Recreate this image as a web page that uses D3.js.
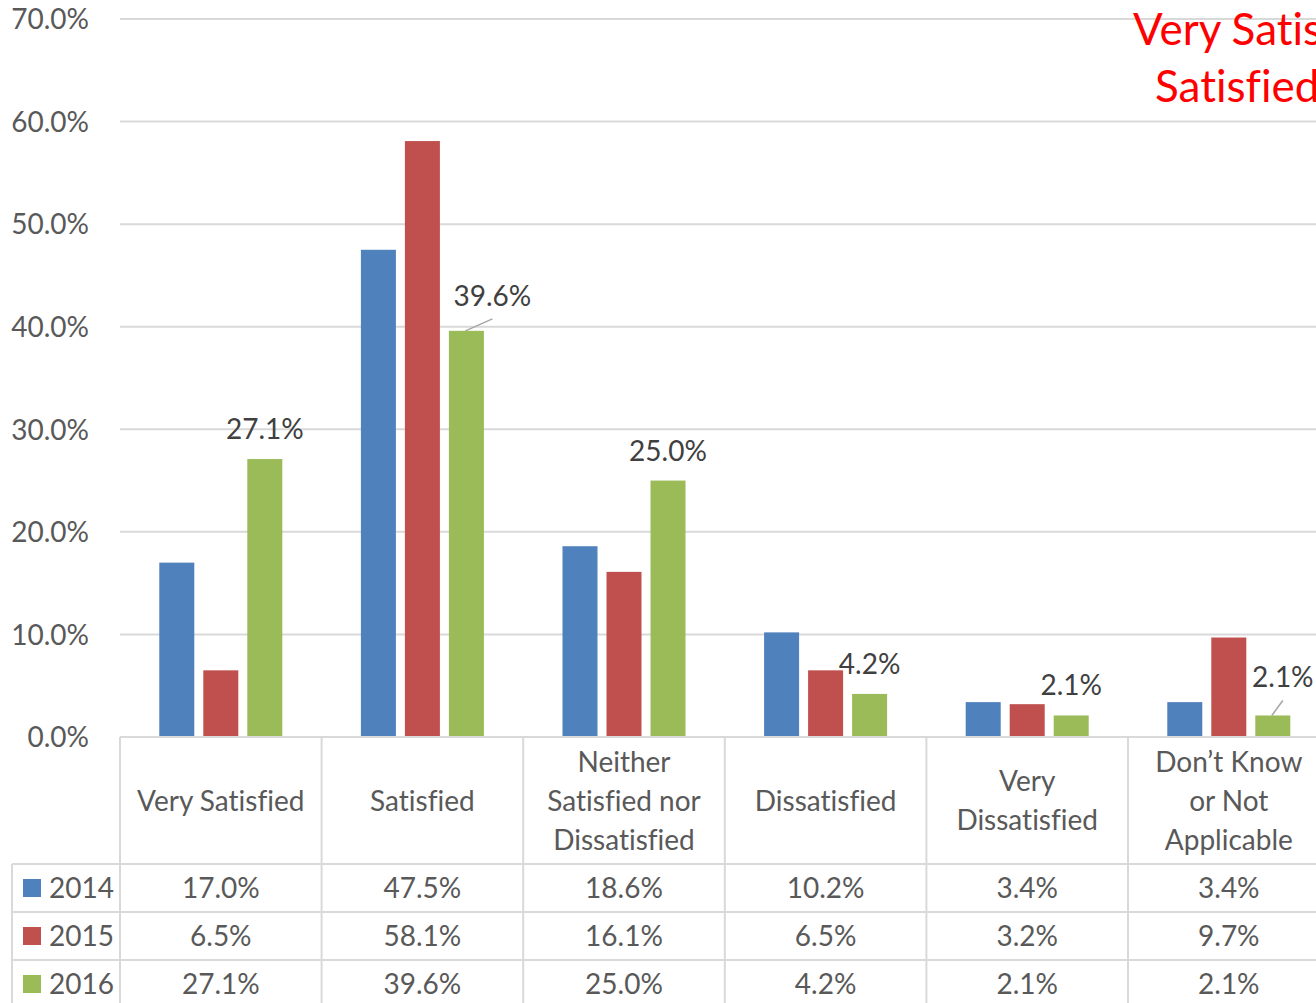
<!DOCTYPE html>
<html>
<head>
<meta charset="utf-8">
<script src="https://cdn.jsdelivr.net/npm/d3@7"></script>
<style>
  body { margin: 0; background: #fff; overflow: hidden; }
  svg { display: block; font-family: Lato, "Open Sans", sans-serif; font-variant-ligatures: none; }
</style>
</head>
<body>
<div id="chart"></div>
<script>
// data
const categories = [
  ["Very Satisfied"],
  ["Satisfied"],
  ["Neither", "Satisfied nor", "Dissatisfied"],
  ["Dissatisfied"],
  ["Very", "Dissatisfied"],
  ["Don\u2019t Know", "or Not", "Applicable"]
];
const years = ["2014", "2015", "2016"];
const values2014 = [17.0, 47.5, 18.6, 10.2, 3.4, 3.4];
const values2015 = [6.5, 58.1, 16.1, 6.5, 3.2, 9.7];
const values2016 = [27.1, 39.6, 25.0, 4.2, 2.1, 2.1];
const yTicks = [0, 10, 20, 30, 40, 50, 60, 70];
const colors = ["#4F81BD", "#C0504D", "#9BBB59"];
const series = [values2014, values2015, values2016];

const W = 1316, H = 1003;
const left = 120, plotTop = 19, plotBottom = 737;
const colW = 201.6;
const rowH = 48, headerBottom = 864;

const svg = d3.select("#chart").append("svg")
  .attr("width", W).attr("height", H);

const keys = categories.map((c, i) => i);

const x = d3.scaleBand()
  .domain(keys)
  .range([left, left + colW * keys.length]);

const xSub = d3.scaleBand()
  .domain(years)
  .range([0, x.bandwidth()])
  .paddingInner(0.2045)
  .paddingOuter(0.893);

const y = d3.scaleLinear()
  .domain([0, 70])
  .range([plotBottom, plotTop]);

// gridlines
svg.append("g").selectAll("line")
  .data(yTicks.filter(d => d > 0))
  .enter().append("line")
  .attr("x1", left).attr("x2", W)
  .attr("y1", d => y(d)).attr("y2", d => y(d))
  .attr("stroke", "#d9d9d9").attr("stroke-width", 2);

// y axis labels
const yAxis = svg.append("g")
  .attr("transform", `translate(${89},0)`)
  .call(d3.axisLeft(y).tickValues(yTicks).tickSize(0).tickPadding(0)
    .tickFormat(d => d.toFixed(1) + "%"));
yAxis.select(".domain").remove();
yAxis.selectAll("text")
  .attr("fill", "#595959")
  .style("font-size", "28px")
  .style("font-family", "Lato, 'Open Sans', sans-serif")
  .attr("dy", "0.35em");

// bars
const groups = svg.append("g").selectAll("g")
  .data(keys)
  .enter().append("g")
  .attr("transform", d => `translate(${x(d)},0)`);

groups.selectAll("rect")
  .data(i => years.map((yr, s) => ({ yr, s, v: series[s][i] })))
  .enter().append("rect")
  .attr("x", d => xSub(d.yr))
  .attr("width", xSub.bandwidth())
  .attr("y", d => y(d.v))
  .attr("height", d => y(0) - y(d.v))
  .attr("fill", d => colors[d.s]);

// data labels for 2016 (some were dragged in the original, with leader lines)
const labelShift = [[0, 0], [26, -5], [0, 0], [0, 0], [0, 0], [10, -8]];
const labels = svg.append("g");
keys.forEach(i => {
  const v = values2016[i];
  const bx = x(i) + xSub("2016") + xSub.bandwidth() / 2;
  const by = y(v);
  const [dx, dy] = labelShift[i];
  const baseline = by - 20 + dy;
  labels.append("text")
    .attr("x", bx + dx)
    .attr("y", baseline)
    .attr("text-anchor", "middle")
    .attr("fill", "#404040")
    .style("font-size", "28px")
    .text(v.toFixed(1) + "%");
  if (dx !== 0) {
    labels.append("line")
      .attr("x1", bx - 1).attr("y1", by)
      .attr("x2", bx + dx).attr("y2", baseline + 13)
      .attr("stroke", "#a6a6a6").attr("stroke-width", 1.5);
  }
});

// data table
const table = svg.append("g");
const gridColor = "#d9d9d9";
const tableRight = W + 20;

// horizontal lines
table.append("line").attr("x1", left).attr("x2", tableRight)
  .attr("y1", plotBottom).attr("y2", plotBottom)
  .attr("stroke", gridColor).attr("stroke-width", 2);
[0, 1, 2].forEach(r => {
  table.append("line").attr("x1", 12).attr("x2", tableRight)
    .attr("y1", headerBottom + r * rowH).attr("y2", headerBottom + r * rowH)
    .attr("stroke", gridColor).attr("stroke-width", 2);
});
// vertical lines
table.append("line").attr("x1", 12).attr("x2", 12)
  .attr("y1", headerBottom).attr("y2", H)
  .attr("stroke", gridColor).attr("stroke-width", 2);
keys.forEach(i => {
  table.append("line").attr("x1", x(i)).attr("x2", x(i))
    .attr("y1", plotBottom).attr("y2", H)
    .attr("stroke", gridColor).attr("stroke-width", 2);
});

// category headers
keys.forEach(i => {
  const lines = categories[i];
  const lh = 39;
  const cy = 801 - (lines.length - 1) * lh / 2;
  const t = table.append("text")
    .attr("text-anchor", "middle")
    .attr("fill", "#595959")
    .style("font-size", "28px");
  lines.forEach((ln, k) => {
    t.append("tspan")
      .attr("x", x(i) + x.bandwidth() / 2)
      .attr("y", cy + k * lh)
      .attr("dy", "0.35em")
      .text(ln);
  });
});

// rows
years.forEach((yr, s) => {
  const cy = headerBottom + s * rowH + rowH / 2;
  table.append("rect")
    .attr("x", 23).attr("y", cy - 9)
    .attr("width", 18).attr("height", 18)
    .attr("fill", colors[s]);
  table.append("text")
    .attr("x", 49).attr("y", cy).attr("dy", "0.35em")
    .attr("fill", "#595959")
    .style("font-size", "28px")
    .text(yr);
  keys.forEach(i => {
    table.append("text")
      .attr("x", x(i) + x.bandwidth() / 2)
      .attr("y", cy).attr("dy", "0.35em")
      .attr("text-anchor", "middle")
      .attr("fill", "#595959")
      .style("font-size", "28px")
      .text(series[s][i].toFixed(1) + "%");
  });
});

// red annotation (cut off at the right edge in the original)
const note = svg.append("text")
  .attr("fill", "#ff0000")
  .style("font-size", "44px");
note.append("tspan").attr("x", 1133).attr("y", 45).text("Very Satisfied");
note.append("tspan").attr("x", 1155).attr("y", 102).text("Satisfied");
</script>
</body>
</html>
